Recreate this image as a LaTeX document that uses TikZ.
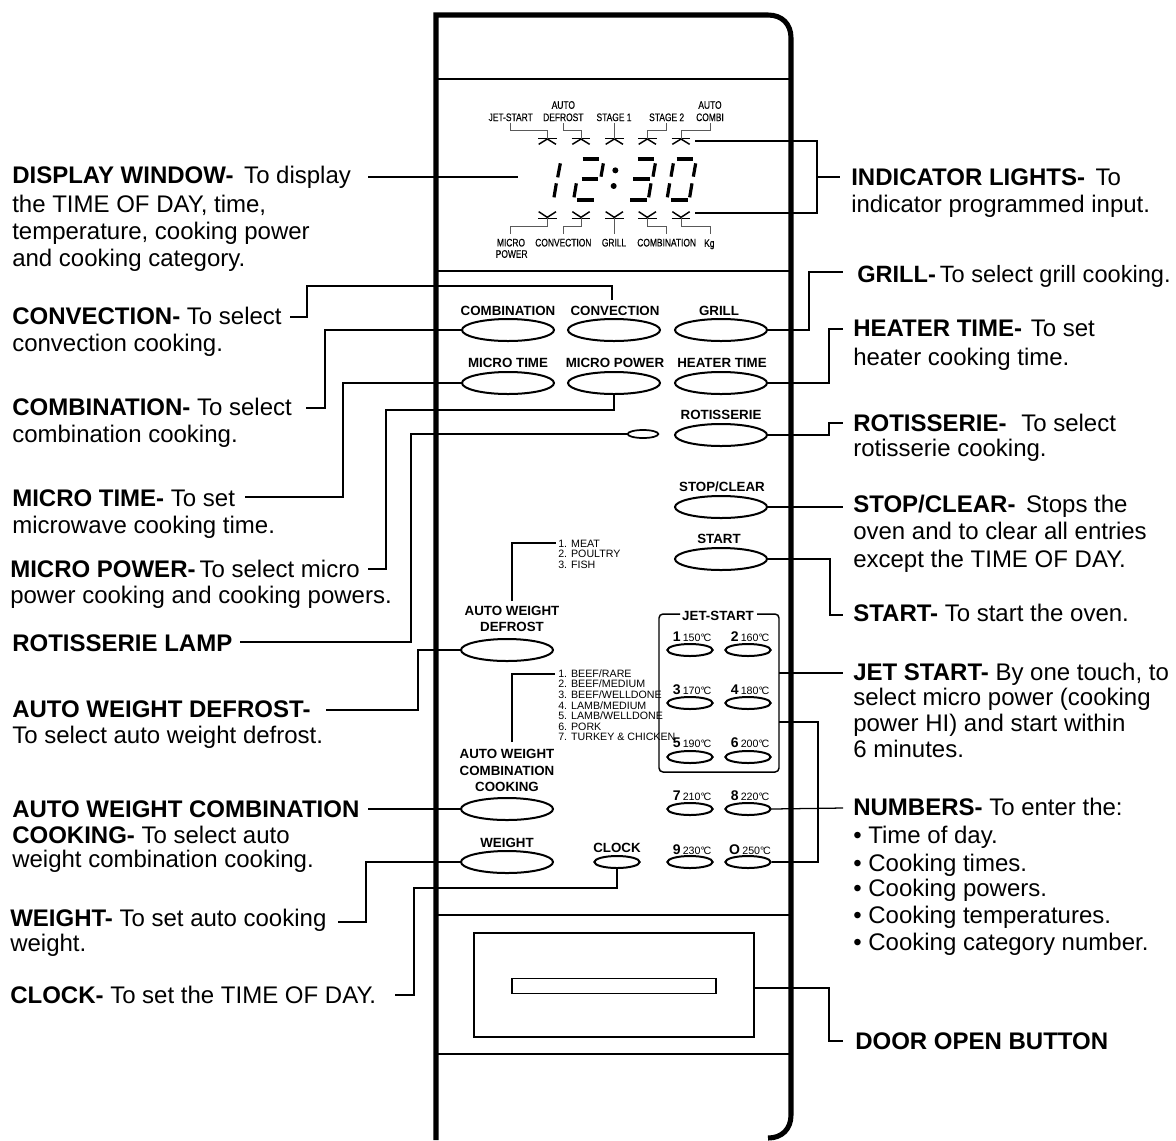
\documentclass[tikz,border=0pt]{standalone}
\usepackage{fontspec}
\usepackage{graphicx}
\setmainfont{Liberation Sans}
\newfontfamily\tinyfont[FakeBold=0.4]{Liberation Sans}
\usetikzlibrary{shapes.geometric}
\newcommand{\narrowtxt}[1]{\scalebox{0.77}[1]{#1}}
\newcommand{\numlabel}[2]{{\fontsize{10.5pt}{12pt}\selectfont\textbf{#1}}\,{\fontsize{8pt}{10pt}\selectfont #2°\kern-1ptC}}
\tikzset{
  bigbtn/.style={draw,ellipse,line width=1.5pt,minimum width=69pt,minimum height=16.5pt,inner sep=0pt},
  smallbtn/.style={draw,ellipse,line width=1.5pt,minimum width=34pt,minimum height=9pt,inner sep=0pt},
  lampbtn/.style={draw,ellipse,line width=1.3pt,minimum width=23pt,minimum height=6pt,inner sep=0pt},
  lbl/.style={anchor=base west,inner sep=0pt,font=\fontsize{18pt}{20pt}\selectfont},
  btxt/.style={anchor=base,inner sep=0pt,font=\bfseries\fontsize{10pt}{12pt}\selectfont},
  numtxt/.style={anchor=base,inner sep=0pt},
  tinytxt/.style={anchor=center,inner sep=0pt,font=\tinyfont\fontsize{8.2pt}{10pt}\selectfont},
  listtxt/.style={anchor=base west,inner sep=0pt,font=\fontsize{8pt}{10pt}\selectfont},
  conn/.style={line width=0.95pt,black},
  leader/.style={line width=0.6pt,black!65},
  panel/.style={line width=3.8pt,black},
  divider/.style={line width=0.9pt,black},
  seg/.style={line width=2.4pt,black},
  segh/.style={line width=3pt,black},
  ind/.style={line width=1.1pt,black}
}
\begin{document}
\begin{tikzpicture}[x=0.75pt,y=-0.75pt]
\useasboundingbox (0,0) rectangle (1176,1140);
% panel
\draw[panel] (436,1140) -- (436,15) -- (768,15) .. controls (782,15) and (791,24) .. (791,38) -- (791,1115) .. controls (791,1129) and (782,1138) .. (768,1138);
\coordinate (dL1) at (436,79); \coordinate (dR1) at (791,79);
\coordinate (dL2) at (436,271); \coordinate (dR2) at (791,271);
\coordinate (dL3) at (436,915); \coordinate (dR3) at (791,915);
\coordinate (dL4) at (436,1054); \coordinate (dR4) at (791,1054);
\draw[divider] (dL1)--(dR1); \draw[divider] (dL2)--(dR2); \draw[divider] (dL3)--(dR3); \draw[divider] (dL4)--(dR4);
% door
\node[draw,line width=1.1pt,minimum width=210pt,minimum height=78pt,inner sep=0pt] (door) at (614,985) {};
\node[draw,line width=0.8pt,minimum width=153pt,minimum height=11pt,inner sep=0pt] (doorslot) at (614,986) {};
% display (zoomed coordinates)
\begin{scope}[shift={(470,90)},x=0.25pt,y=-0.25pt]
  \foreach \X in {232,333,433,532,633}{
    \draw[ind] (\X-28,146) -- (\X+28,146);
    \draw[ind] (\X-26,163) -- (\X,147) -- (\X+26,163);
    \draw[ind] (\X-28,385) -- (\X+28,385);
    \draw[ind] (\X-26,365) -- (\X,382) -- (\X+26,365);
  }
  \draw[leader] (120,100)--(120,120)--(232,120)--(232,146);
  \draw[leader] (280,100)--(280,120)--(333,120)--(333,146);
  \draw[leader] (433,100)--(433,146);
  \draw[leader] (590,100)--(590,120)--(532,120)--(532,146);
  \draw[leader] (722,100)--(722,120)--(633,120)--(633,146);
  \draw[leader] (232,385)--(232,410)--(120,410)--(120,432);
  \draw[leader] (333,385)--(333,410)--(280,410)--(280,432);
  \draw[leader] (433,385)--(433,432);
  \draw[leader] (532,385)--(532,410)--(590,410)--(590,432);
  \draw[leader] (633,385)--(633,410)--(722,410)--(722,432);
  \node[tinytxt] (tJet) at (122,82) {\narrowtxt{JET-START}};
  \node[tinytxt] (tAuto1) at (280,45) {\narrowtxt{AUTO}};
  \node[tinytxt] (tDef) at (280,82) {\narrowtxt{DEFROST}};
  \node[tinytxt] (tS1) at (432,82) {\narrowtxt{STAGE 1}};
  \node[tinytxt] (tS2) at (590,82) {\narrowtxt{STAGE 2}};
  \node[tinytxt] (tAuto2) at (720,45) {\narrowtxt{AUTO}};
  \node[tinytxt] (tCombi) at (720,82) {\narrowtxt{COMBI}};
  \node[tinytxt] (tMicro) at (123,458) {\narrowtxt{MICRO}};
  \node[tinytxt] (tPower) at (125,492) {\narrowtxt{POWER}};
  \node[tinytxt] (tConv) at (280,458) {\narrowtxt{CONVECTION}};
  \node[tinytxt] (tGrill) at (432,458) {\narrowtxt{GRILL}};
  \node[tinytxt] (tComb) at (590,458) {\narrowtxt{COMBINATION}};
  \node[tinytxt] (tKg) at (718,463) {\narrowtxt{Kg}};
  % digit 1
  \draw[seg] (271,220)--(263,262); \draw[seg] (259,280)--(252,322);
  % digit 2
  \draw[segh] (338,208)--(388,208); \draw[seg] (400,220)--(393,260);
  \draw[segh] (335,268)--(385,268); \draw[seg] (319,280)--(312,322); \draw[segh] (322,331)--(372,331);
  % colon
  \fill (436,241) circle[radius=9]; \fill (431,288) circle[radius=9];
  % digit 3
  \draw[segh] (503,208)--(553,208); \draw[seg] (556,220)--(549,260);
  \draw[segh] (490,268)--(540,268); \draw[seg] (543,280)--(536,322); \draw[segh] (480,331)--(530,331);
  % digit 0
  \draw[segh] (620,208)--(670,208); \draw[seg] (677,220)--(670,260); \draw[seg] (610,220)--(603,260);
  \draw[seg] (599,280)--(592,322); \draw[seg] (666,280)--(659,322); \draw[segh] (603,331)--(653,331);
\end{scope}
% buttons
\node[bigbtn] (combination) at (508,330) {};
\node[bigbtn] (convection) at (614,330) {};
\node[bigbtn] (grill) at (721,330) {};
\node[bigbtn] (microtime) at (508,383) {};
\node[bigbtn] (micropower) at (614,383) {};
\node[bigbtn] (heatertime) at (721,383) {};
\node[lampbtn] (lamp) at (643,434) {};
\node[bigbtn] (rotisserie) at (721,435) {};
\node[bigbtn] (stopclear) at (721,507) {};
\node[bigbtn] (start) at (721,559) {};
\node[bigbtn] (autodefrost) at (507,650) {};
\node[bigbtn] (autocomb) at (507,809) {};
\node[bigbtn] (weight) at (507,862) {};
\node[smallbtn] (clock) at (617,862) {};
\foreach \nm/\X/\Y in {n1/690/650,n2/748/650,n3/690/703,n4/748/703,n5/690/757,n6/748/757,n7/690/809,n8/748/809,n9/690/862,n0/748/862}{
  \node[smallbtn] (\nm) at (\X,\Y) {};
}
% button labels
\node[btxt] (bCombination) at (508,315) {COMBINATION};
\node[btxt] (bConvection) at (615,315) {CONVECTION};
\node[btxt] (bGrill) at (719,315) {GRILL};
\node[btxt] (bMicroTime) at (508,367) {MICRO TIME};
\node[btxt] (bMicroPower) at (615,367) {MICRO POWER};
\node[btxt] (bHeater) at (722,367) {HEATER TIME};
\node[btxt] (bRot) at (721,419) {ROTISSERIE};
\node[btxt] (bStop) at (722,491) {STOP/CLEAR};
\node[btxt] (bStart) at (719,543) {START};
\node[btxt] (bAw1) at (512,615) {AUTO WEIGHT};
\node[btxt] (bAw2) at (512,631) {DEFROST};
\node[btxt] (bAc1) at (507,758) {AUTO WEIGHT};
\node[btxt] (bAc2) at (507,775) {COMBINATION};
\node[btxt] (bAc3) at (507,791) {COOKING};
\node[btxt] (bWeight) at (507,847) {WEIGHT};
\node[btxt] (bClock) at (617,852) {CLOCK};
\node[numtxt] (t1) at (692,641) {\numlabel{1}{150}};
\node[numtxt] (t2) at (750,641) {\numlabel{2}{160}};
\node[numtxt] (t3) at (692,694) {\numlabel{3}{170}};
\node[numtxt] (t4) at (750,694) {\numlabel{4}{180}};
\node[numtxt] (t5) at (692,747) {\numlabel{5}{190}};
\node[numtxt] (t6) at (750,747) {\numlabel{6}{200}};
\node[numtxt] (t7) at (692,800) {\numlabel{7}{210}};
\node[numtxt] (t8) at (750,800) {\numlabel{8}{220}};
\node[numtxt] (t9) at (692,854) {\numlabel{9}{230}};
\node[numtxt] (t0) at (750,854) {\numlabel{O}{250}};
% jet-start box
\node[btxt] (bJet) at (718,620) {JET-START};
\coordinate (jTL) at (659,614); \coordinate (jTR) at (779,614); \coordinate (jBR) at (779,772); \coordinate (jBL) at (659,772);
\coordinate (jG1) at (680,614); \coordinate (jG2) at (757,614);
\draw[line width=1.1pt,rounded corners=3pt] (jG1)--(jTL)--(jBL)--(jBR)--(jTR)--(jG2);
% lists
\node[listtxt] (m1) at (558,547) {1. MEAT};
\node[listtxt] (m2) at (558,557) {2. POULTRY};
\node[listtxt] (m3) at (558,568) {3. FISH};
\node[listtxt] (l1) at (558,677) {1. BEEF/RARE};
\node[listtxt] (l2) at (558,687) {2. BEEF/MEDIUM};
\node[listtxt] (l3) at (558,698) {3. BEEF/WELLDONE};
\node[listtxt] (l4) at (558,709) {4. LAMB/MEDIUM};
\node[listtxt] (l5) at (558,719) {5. LAMB/WELLDONE};
\node[listtxt] (l6) at (558,730) {6. PORK};
\node[listtxt] (l7) at (558,740) {7. TURKEY \& CHICKEN};
\coordinate (m1w) at (556,543); \coordinate (l1w) at (555,674);
\coordinate (aw1n) at (512,601); \coordinate (ac1n) at (512,742);
% left labels
\node[lbl] (lDisplay) at (12,183) {\textbf{DISPLAY WINDOW-}\hspace{3pt} To display};
\node[lbl] (lDisplay2) at (12,212) {the TIME OF DAY, time,};
\node[lbl] (lDisplay3) at (12,239) {temperature, cooking power};
\node[lbl] (lDisplay4) at (12,266) {and cooking category.};
\node[lbl] (lConv) at (12,324) {\textbf{CONVECTION-} To select};
\node[lbl] (lConv2) at (12,351) {convection cooking.};
\node[lbl] (lComb) at (12,415) {\textbf{COMBINATION-} To select};
\node[lbl] (lComb2) at (12,442) {combination cooking.};
\node[lbl] (lMt) at (12,506) {\textbf{MICRO TIME-} To set};
\node[lbl] (lMt2) at (12,533) {microwave cooking time.};
\node[lbl] (lMp) at (10,577) {\textbf{MICRO POWER-}\hspace{-2pt} To select micro};
\node[lbl] (lMp2) at (10,603) {power cooking and cooking powers.};
\node[lbl] (lLamp) at (12,651) {\textbf{ROTISSERIE LAMP}};
\node[lbl] (lAd) at (12,717) {\textbf{AUTO WEIGHT DEFROST-}};
\node[lbl] (lAd2) at (12,743) {To select auto weight defrost.};
\node[lbl] (lAc) at (12,817) {\textbf{AUTO WEIGHT COMBINATION}};
\node[lbl] (lAc2) at (12,843) {\textbf{COOKING-} To select auto};
\node[lbl] (lAc3) at (12,867) {weight combination cooking.};
\node[lbl] (lW) at (10,926) {\textbf{WEIGHT-} To set auto cooking};
\node[lbl] (lW2) at (10,951) {weight.};
\node[lbl] (lClock) at (10,1003) {\textbf{CLOCK-} To set the TIME OF DAY.};
% right labels
\node[lbl] (rInd) at (851,185) {\textbf{INDICATOR LIGHTS-}\hspace{3pt} To};
\node[lbl] (rInd2) at (851,212) {indicator programmed input.};
\node[lbl,font=\fontsize{17.7pt}{20pt}\selectfont] (rGrill) at (857,282) {\textbf{GRILL-}\hspace{-2pt} To select grill cooking.};
\node[lbl] (rHeat) at (853,336) {\textbf{HEATER TIME-}\hspace{1.5pt} To set};
\node[lbl] (rHeat2) at (853,365) {heater cooking time.};
\node[lbl] (rRot) at (853,431) {\textbf{ROTISSERIE-}\hspace{6pt} To select};
\node[lbl] (rRot2) at (853,456) {rotisserie cooking.};
\node[lbl] (rStop) at (853,512) {\textbf{STOP/CLEAR-}\hspace{3pt} Stops the};
\node[lbl] (rStop2) at (853,539) {oven and to clear all entries};
\node[lbl] (rStop3) at (853,567) {except the TIME OF DAY.};
\node[lbl] (rStart) at (853,621) {\textbf{START-} To start the oven.};
\node[lbl] (rJet) at (853,680) {\textbf{JET START-} By one touch, to};
\node[lbl] (rJet2) at (853,705) {select micro power (cooking};
\node[lbl] (rJet3) at (853,731) {power HI) and start within};
\node[lbl] (rJet4) at (853,757) {6 minutes.};
\node[lbl] (rNum) at (853,815) {\textbf{NUMBERS-} To enter the:};
\node[lbl] (rNum1) at (853,843) {• Time of day.};
\node[lbl] (rNum2) at (853,871) {• Cooking times.};
\node[lbl] (rNum3) at (853,896) {• Cooking powers.};
\node[lbl] (rNum4) at (853,923) {• Cooking temperatures.};
\node[lbl] (rNum5) at (853,950) {• Cooking category number.};
\node[lbl] (rDoor) at (855,1049) {\textbf{DOOR OPEN BUTTON}};
% free ends
\coordinate (eDisplay) at (368,177);
\coordinate (eDisplayR) at (518,177);
\coordinate (eConv) at (290,317);
\coordinate (eComb) at (306,408);
\coordinate (eMt) at (245,497);
\coordinate (eMp) at (368,569);
\coordinate (eLamp) at (240,642);
\coordinate (eAd) at (326,710);
\coordinate (eAc) at (368,809);
\coordinate (eW) at (338,922);
\coordinate (eClock) at (395,995);
\coordinate (eInd) at (840,177);
\coordinate (iTop) at (695,141);
\coordinate (iBot) at (695,213);
\coordinate (eGrill) at (843,272);
\coordinate (eHeat) at (843,329);
\coordinate (eRot) at (843,423);
\coordinate (eStop) at (843,507);
\coordinate (eStart) at (843,615);
\coordinate (eJet) at (843,673);
\coordinate (jRight) at (779,673);
\coordinate (jRight2) at (779,722);
\coordinate (eNum) at (843,808);
\coordinate (eDoor) at (843,1041);
\coordinate (convTop) at (612,300);
% connectors
\draw[conn] (eDisplay)--(eDisplayR);
\draw[conn] (iTop)--(817,141)--(817,213)--(iBot);
\draw[conn] (817,177)--(eInd);
\draw[conn] (eConv)--(307,317)--(307,286)--(612,286)--(convTop);
\draw[conn] (combination.west)--(325,330)--(325,408)--(eComb);
\draw[conn] (microtime.west)--(343,383)--(343,497)--(eMt);
\draw[conn] (micropower.south)--(614,410)--(386,410)--(386,569)--(eMp);
\draw[conn] (lamp.west)--(411,434)--(411,642)--(eLamp);
\draw[conn] (autodefrost.west)--(418,650)--(418,710)--(eAd);
\draw[conn] (autocomb.west)--(eAc);
\draw[conn] (weight.west)--(366,862)--(366,922)--(eW);
\draw[conn] (clock.south)--(617,888)--(414,888)--(414,995)--(eClock);
\draw[conn] (grill.east)--(809,330)--(809,272)--(eGrill);
\draw[conn] (heatertime.east)--(829,383)--(829,329)--(eHeat);
\draw[conn] (rotisserie.east)--(829,435)--(829,423)--(eRot);
\draw[conn] (stopclear.east)--(eStop);
\draw[conn] (start.east)--(830,559)--(830,615)--(eStart);
\draw[conn] (jRight)--(eJet);
\draw[conn] (jRight2)--(818,722)--(818,862)--(n0.east);
\draw[conn] (n8.east)--(eNum);
\draw[conn] (door.east |- 0,988)--(829,988)--(829,1041)--(eDoor);
\draw[conn] (aw1n)--(512,543)--(m1w);
\draw[conn] (ac1n)--(512,674)--(l1w);
\end{tikzpicture}
\end{document}
